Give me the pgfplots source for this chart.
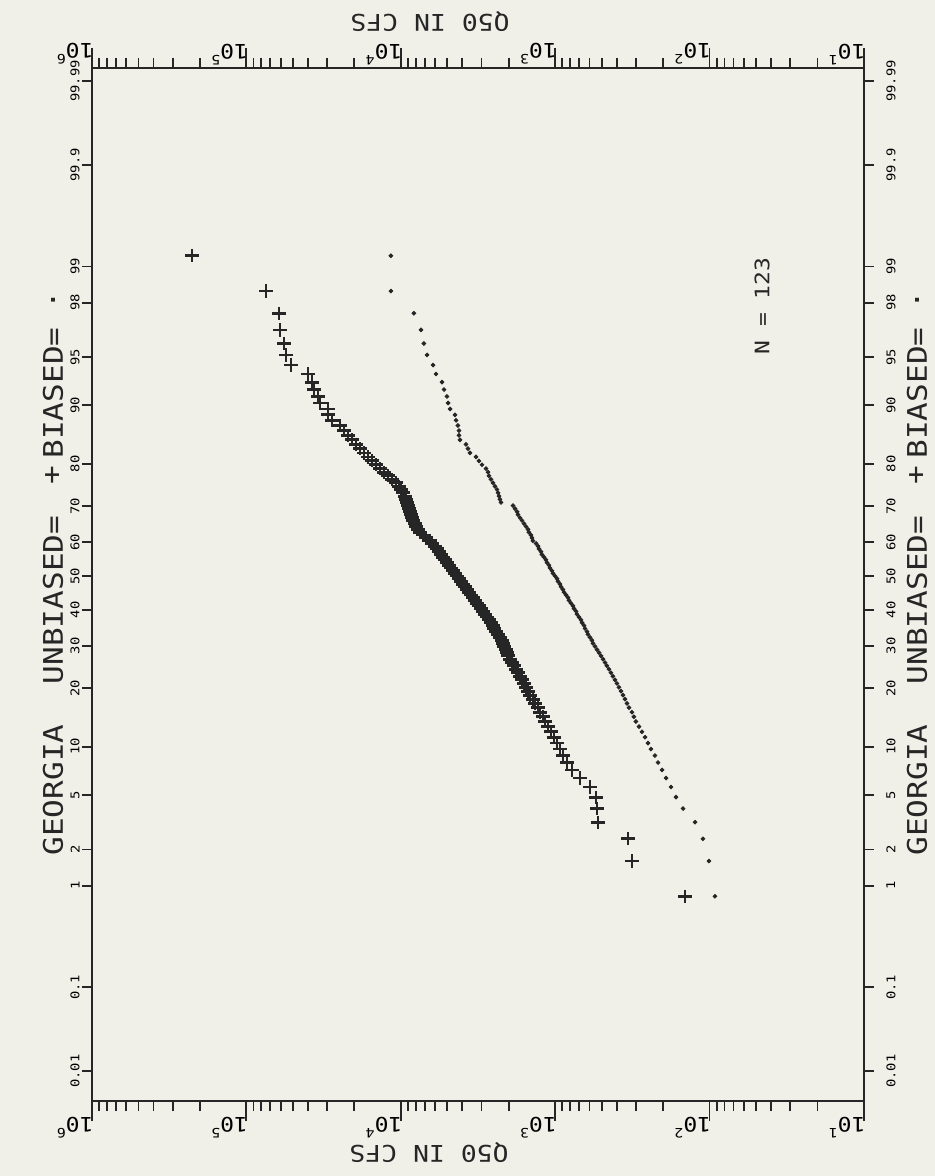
\documentclass[border=0pt]{standalone}
\usepackage{pgfplots}
\pgfplotsset{compat=1.18}
\usepackage{pgfplotstable}
\usepackage{fontspec}
\newfontfamily\pf[FakeStretch=1.15]{DejaVu Sans Mono}
\definecolor{ink}{HTML}{262626}
\definecolor{paper}{HTML}{F0F0E8}
\newcommand{\tl}[1]{\pf\fontsize{10}{10}\selectfont 10\raisebox{0.55em}{\fontsize{6.5}{6.5}\selectfont#1}}

% log10(Q50) and standard normal variate of the plotting position i/124
\pgfplotstableread{
L z
2.159 -2.406
2.503 -2.141
2.528 -1.974
2.723 -1.849
2.729 -1.747
2.736 -1.661
2.775 -1.585
2.839 -1.518
2.891 -1.457
2.924 -1.401
2.950 -1.349
2.969 -1.300
2.988 -1.255
3.008 -1.211
3.027 -1.170
3.047 -1.131
3.066 -1.093
3.079 -1.057
3.098 -1.023
3.111 -0.989
3.131 -0.957
3.144 -0.925
3.163 -0.895
3.176 -0.865
3.189 -0.836
3.202 -0.807
3.215 -0.780
3.228 -0.753
3.241 -0.726
3.254 -0.700
3.267 -0.674
3.280 -0.650
3.293 -0.625
3.306 -0.600
3.312 -0.576
3.319 -0.553
3.332 -0.529
3.338 -0.506
3.345 -0.483
3.358 -0.461
3.370 -0.438
3.383 -0.417
3.396 -0.394
3.403 -0.372
3.416 -0.351
3.429 -0.329
3.442 -0.308
3.455 -0.287
3.468 -0.265
3.481 -0.245
3.494 -0.224
3.506 -0.204
3.519 -0.183
3.532 -0.162
3.545 -0.142
3.558 -0.122
3.571 -0.101
3.584 -0.081
3.597 -0.061
3.610 -0.040
3.623 -0.020
3.636 0
3.649 0.020
3.662 0.040
3.675 0.061
3.688 0.081
3.701 0.101
3.714 0.122
3.727 0.142
3.740 0.162
3.753 0.183
3.766 0.204
3.779 0.224
3.798 0.245
3.811 0.265
3.837 0.287
3.856 0.308
3.876 0.329
3.889 0.351
3.902 0.372
3.908 0.394
3.921 0.417
3.927 0.438
3.934 0.461
3.940 0.483
3.947 0.506
3.953 0.529
3.960 0.553
3.966 0.576
3.973 0.600
3.986 0.625
3.999 0.650
4.012 0.674
4.031 0.700
4.057 0.726
4.083 0.753
4.109 0.780
4.135 0.807
4.161 0.836
4.187 0.865
4.213 0.895
4.238 0.925
4.264 0.957
4.290 0.989
4.316 1.023
4.342 1.057
4.368 1.093
4.394 1.131
4.446 1.170
4.472 1.211
4.472 1.255
4.523 1.300
4.536 1.349
4.562 1.401
4.575 1.457
4.601 1.518
4.711 1.585
4.744 1.661
4.756 1.747
4.782 1.849
4.789 1.974
4.873 2.141
5.352 2.406
}\unbiased

\pgfplotstableread{
L z
1.965 -2.406
2.004 -2.141
2.043 -1.974
2.094 -1.849
2.172 -1.747
2.218 -1.661
2.250 -1.585
2.282 -1.518
2.308 -1.457
2.334 -1.401
2.354 -1.349
2.380 -1.300
2.399 -1.255
2.418 -1.211
2.438 -1.170
2.457 -1.131
2.477 -1.093
2.490 -1.057
2.503 -1.023
2.522 -0.989
2.535 -0.957
2.548 -0.925
2.561 -0.895
2.574 -0.865
2.587 -0.836
2.600 -0.807
2.613 -0.780
2.626 -0.753
2.639 -0.726
2.652 -0.700
2.665 -0.674
2.677 -0.650
2.690 -0.625
2.703 -0.600
2.716 -0.576
2.729 -0.553
2.742 -0.529
2.755 -0.506
2.762 -0.483
2.775 -0.461
2.788 -0.438
2.794 -0.417
2.807 -0.394
2.813 -0.372
2.826 -0.351
2.833 -0.329
2.846 -0.308
2.859 -0.287
2.865 -0.265
2.878 -0.245
2.885 -0.224
2.898 -0.204
2.911 -0.183
2.917 -0.162
2.930 -0.142
2.943 -0.122
2.950 -0.101
2.962 -0.081
2.969 -0.061
2.982 -0.040
2.988 -0.020
3.001 0
3.014 0.020
3.021 0.040
3.034 0.061
3.040 0.081
3.053 0.101
3.060 0.122
3.073 0.142
3.086 0.162
3.092 0.183
3.105 0.204
3.111 0.224
3.124 0.245
3.144 0.265
3.150 0.287
3.157 0.308
3.170 0.329
3.176 0.351
3.189 0.372
3.202 0.394
3.215 0.417
3.228 0.438
3.241 0.461
3.247 0.483
3.260 0.506
3.273 0.529
3.351 0.553
3.358 0.576
3.364 0.600
3.370 0.625
3.377 0.650
3.390 0.674
3.403 0.700
3.416 0.726
3.429 0.753
3.435 0.780
3.448 0.807
3.474 0.836
3.494 0.865
3.513 0.895
3.552 0.925
3.565 0.957
3.578 0.989
3.617 1.023
3.623 1.057
3.623 1.093
3.630 1.131
3.642 1.170
3.649 1.211
3.681 1.255
3.694 1.300
3.701 1.349
3.720 1.401
3.733 1.457
3.772 1.518
3.791 1.585
3.830 1.661
3.850 1.747
3.869 1.849
3.915 1.974
4.064 2.141
4.064 2.406
}\biased

\pgfplotsset{
  probframe/.style={at={(46pt,37.5pt)}, anchor=south west, scale only axis,
    width=386pt, height=516.5pt, xmin=1, xmax=6, x dir=reverse,
    ymin=-3.944, ymax=3.817, tick align=outside,
    axis line style={ink, line width=1pt}, every tick/.style={ink, line width=0.9pt}},
  probticks/.style={ytick={-3.719,-3.090,-2.326,-2.054,-1.645,-1.282,-0.842,-0.524,-0.253,0,
      0.253,0.524,0.842,1.282,1.645,2.054,2.326,3.090,3.719},
    yticklabels={0.01,0.1,1,2,5,10,20,30,40,50,60,70,80,90,95,98,99,99.9,99.99}},
}

\begin{document}
\begin{tikzpicture}
\fill[paper] (0,0) rectangle (467.5pt,588pt);
\useasboundingbox (0,0) rectangle (467.5pt,588pt);

% data, Q ticks on both sides, Q labels below
\begin{axis}[probframe, ytick=\empty, xtick={1,2,3,4,5,6},
  minor xtick={1.301,1.477,1.602,1.699,1.778,1.845,1.903,1.954,
    2.301,2.477,2.602,2.699,2.778,2.845,2.903,2.954,
    3.301,3.477,3.602,3.699,3.778,3.845,3.903,3.954,
    4.301,4.477,4.602,4.699,4.778,4.845,4.903,4.954,
    5.301,5.477,5.602,5.699,5.778,5.845,5.903,5.954},
  xtick pos=both, xticklabel pos=lower, major tick length=10pt, minor tick length=5pt,
  xticklabels={\tl{1},\tl{2},\tl{3},\tl{4},\tl{5},\tl{6}},
  xticklabel style={rotate=180, anchor=south west, inner sep=0pt, xshift=-1pt, yshift=-2pt}]
\addplot[only marks, mark=+, mark size=3.3pt, ink, line width=1.4pt] table[x=L, y=z] {\unbiased};
\addplot[only marks, mark=*, mark size=0.95pt, ink] table[x=L, y=z] {\biased};
\end{axis}

% probability ticks on both sides, labels left
\begin{axis}[probframe, probticks, xtick=\empty, ytick pos=both, yticklabel pos=left,
  major tick length=5pt,
  yticklabel style={rotate=90, anchor=south, inner sep=1pt, font=\pf\fontsize{6}{6}\selectfont}]
\end{axis}

% mirrored labels: probability on the right, Q on top
\begin{axis}[probframe, probticks, xtick={1,2,3,4,5,6}, axis line style={draw=none},
  every tick/.style={draw=none}, major tick length=5pt,
  ytick pos=right, yticklabel pos=right, xtick pos=upper, xticklabel pos=upper,
  xticklabels={\tl{1},\tl{2},\tl{3},\tl{4},\tl{5},\tl{6}},
  xticklabel style={rotate=180, anchor=north west, inner sep=0pt, xshift=-1pt, yshift=3.5pt},
  yticklabel style={rotate=90, anchor=north, inner sep=1pt, yshift=-5pt, font=\pf\fontsize{6}{6}\selectfont}]
\end{axis}

\begin{scope}[ink, font=\pf\fontsize{11.5}{11.5}\selectfont]
\node[rotate=180] at (214.5pt,11.5pt) {Q50 IN CFS};
\node[rotate=180] at (215pt,577pt) {Q50 IN CFS};
\end{scope}
\begin{scope}[ink, font=\pf\fontsize{13.5}{13.5}\selectfont]
\foreach \xx in {26.5pt,458.5pt}{
  \node[rotate=90] at (\xx,193pt) {GEORGIA};
  \node[rotate=90] at (\xx,288pt) {UNBIASED=};
  \node[rotate=90] at (\xx,350.5pt) {+};
  \node[rotate=90] at (\xx,391.5pt) {BIASED=};
  \node[rotate=90] at (\xx,438pt) {.};
}
\end{scope}
\node[ink, rotate=90, font=\pf\fontsize{10}{10}\selectfont] at (381pt,435pt) {N = 123};
\end{tikzpicture}
\end{document}
